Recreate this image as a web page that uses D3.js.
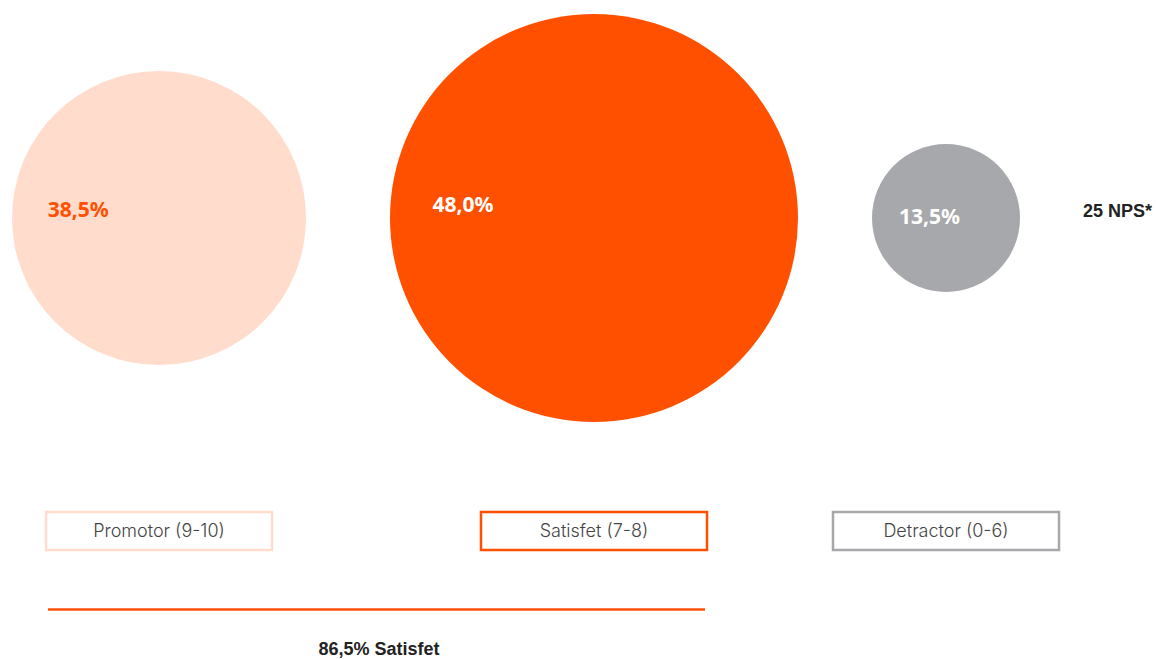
<!DOCTYPE html>
<html>
<head>
<meta charset="utf-8">
<script src="https://cdn.jsdelivr.net/npm/d3@7"></script>
<style>
  html, body { margin: 0; padding: 0; background: #fff; }
  svg { display: block; }
</style>
</head>
<body>
<script>
// chart data
var categories = ["Promotor (9-10)", "Satisfet (7-8)", "Detractor (0-6)"];
var values = [38.5, 48.0, 13.5];
var fills = ["#ffdccc", "#ff5000", "#a7a8ab"];
var labelColors = ["#ff5000", "#ffffff", "#ffffff"];
var npsLabel = "25 NPS*";
var satisfiedIdx = [0, 1]; // promotor + satisfet

var width = 1156, height = 659;

var svg = d3.select("body")
  .append("svg")
  .attr("width", width)
  .attr("height", height);

var locale = d3.formatLocale({ decimal: ",", thousands: ".", grouping: [3], currency: ["", ""] });
var fmt = locale.format(".1f");

// bubble size (picture is not strictly area-proportional)
var r = d3.scaleLinear()
  .domain([13.5, 38.5, 48])
  .range([74, 147, 204]);

var cy = 218, x0 = 12;
var gaps = [84, 74];
var nodes = [];
var cursor = x0;
values.forEach(function (v, i) {
  var rad = r(v);
  nodes.push({ name: categories[i], value: v, r: rad, cx: cursor + rad, fill: fills[i], label: labelColors[i] });
  cursor += rad * 2 + (gaps[i] || 0);
});

var node = svg.selectAll("g.bubble")
  .data(nodes)
  .enter()
  .append("g")
  .attr("class", "bubble");

node.append("circle")
  .attr("cx", d => d.cx)
  .attr("cy", cy)
  .attr("r", d => d.r)
  .attr("fill", d => d.fill);

node.append("text")
  .attr("x", d => d.cx - d.r + 0.12 * d.r + 18)
  .attr("y", d => cy + 5 - 0.09 * d.r)
  .attr("dy", "0.35em")
  .style("font-family", "'Noto Sans', sans-serif")
  .style("font-weight", 700)
  .style("font-size", "21px")
  .style("fill", d => d.label)
  .text(d => fmt(d.value) + "%");

svg.append("text")
  .attr("x", 1083)
  .attr("y", 217)
  .style("font-family", "'Liberation Sans', Arial, sans-serif")
  .style("font-weight", 700)
  .style("font-size", "18px")
  .style("fill", "#222")
  .text(npsLabel);

// legend boxes
var boxW = 226, boxH = 38, boxY = 512;
var legend = svg.selectAll("g.legend")
  .data(nodes)
  .enter()
  .append("g")
  .attr("class", "legend");

legend.append("rect")
  .attr("x", d => d.cx - boxW / 2)
  .attr("y", boxY)
  .attr("width", boxW)
  .attr("height", boxH)
  .attr("fill", "#fff")
  .attr("stroke", d => d.fill)
  .attr("stroke-width", 2.5);

legend.append("text")
  .attr("x", d => d.cx)
  .attr("y", boxY + boxH / 2)
  .attr("dy", "0.35em")
  .attr("text-anchor", "middle")
  .style("font-family", "Inter, 'Noto Sans', sans-serif")
  .style("font-weight", 300)
  .style("font-size", "18px")
  .style("fill", "#444")
  .text(d => d.name);

// satisfied total bracket
var total = d3.sum(satisfiedIdx, i => values[i]);
svg.append("line")
  .attr("x1", 48)
  .attr("x2", 705)
  .attr("y1", 609.5)
  .attr("y2", 609.5)
  .attr("stroke", "#ff5000")
  .attr("stroke-width", 2.5);

svg.append("text")
  .attr("x", 379)
  .attr("y", 655)
  .attr("text-anchor", "middle")
  .style("font-family", "'Liberation Sans', Arial, sans-serif")
  .style("font-weight", 700)
  .style("font-size", "18px")
  .style("fill", "#222")
  .text(fmt(total) + "% Satisfet");
</script>
</body>
</html>
